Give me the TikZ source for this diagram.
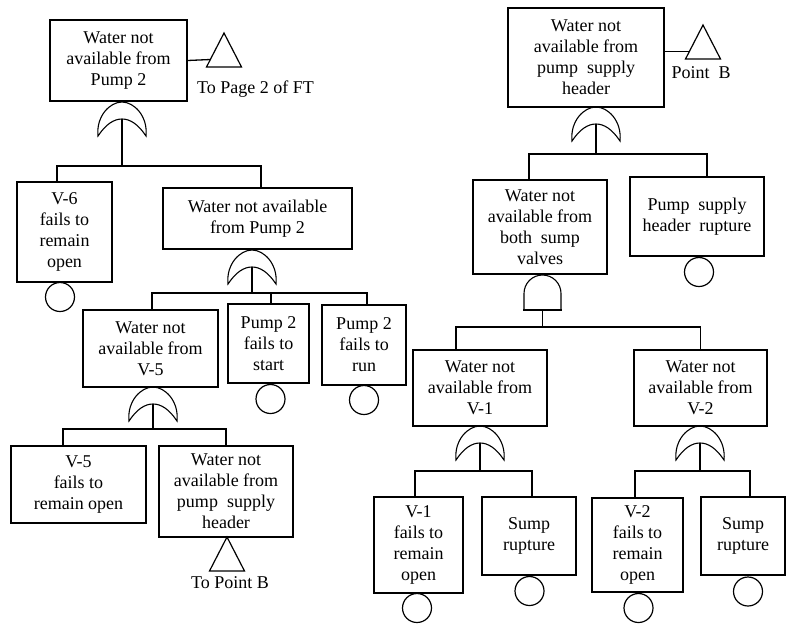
\documentclass[tikz,border=0pt]{standalone}
\usepackage{fontspec}
\setmainfont{Liberation Serif}
\begin{document}
\begin{tikzpicture}[x=1pt,y=-1pt,
  every node/.style={font=\fontsize{18}{21}\selectfont},
  box/.style args={#1/#2}{draw, line width=1.2pt, rectangle, inner sep=0pt,
    align=center, minimum width=#1pt, minimum height=#2pt},
  basic/.style={draw, line width=1.2pt, circle, inner sep=0pt, minimum size=29pt},
  link/.style={line width=1.3pt},
  gateline/.style={line width=1.1pt},
  lbl/.style={inner sep=0pt},
  orgate/.pic={
    \draw[gateline] (-24,34) .. controls (-26,14) and (-12,0) .. (0,0)
      .. controls (12,0) and (26,14) .. (24,34)
      .. controls (16,22) and (8,17) .. (0,17)
      .. controls (-8,17) and (-16,22) .. (-24,34) -- cycle;
    \coordinate (-in) at (0,17);
  },
  andgate/.pic={
    \draw[gateline] (-18.5,35) -- (-18.5,18.5) arc (180:0:18.5pt) -- (18.5,35);
    \draw[line width=2.4pt] (-19.5,35) -- (19.5,35);
    \coordinate (-out) at (0,35);
  },
  transfer/.pic={
    \draw[line width=1.2pt] (0,0) -- (17.5,34) -- (-17.5,34) -- cycle;
    \coordinate (-w) at (-13.5,26.5);
  }
]
\useasboundingbox (0,0) rectangle (786,624);

% ---------------- left tree ----------------
\node[box={137/81}] (A) at (118.5,60.5) {Water not\\available from\\Pump 2};
\pic (tA) at (224,33) {transfer};
\draw[link] (A.east) -- (tA-w);
\node[lbl, anchor=base west] (tAlbl) at (197,93) {To Page 2 of FT};

\pic (gA) at (122,102) {orgate};
\node[box={95/100}] (B) at (64.5,232) {V-6\\fails to\\remain\\open};
\node[basic] (cB) at (60,297) {};
\node[box={189/61}] (C) at (257.5,218.5) {Water not available\\from Pump 2};
\coordinate (jA) at (122,166);
\draw[link] (gA-in) -- (jA);
\draw[link] (jA) -| ([xshift=-7.5pt]B.north);
\draw[link] (jA) -| ([xshift=3.5pt]C.north);

\pic (gC) at (252,250) {orgate};
\node[box={135/77}] (D) at (150.5,348.5) {Water not\\available from\\V-5};
\node[box={81/79}] (E) at (268.5,343.5) {Pump 2\\fails to\\start};
\node[basic] (cE) at (270.5,399) {};
\node[box={84/80}] (F) at (364,345) {Pump 2\\fails to\\run};
\node[basic] (cF) at (364,400) {};
\coordinate (jC) at (252,293);
\draw[link] (gC-in) -- (jC);
\draw[link] (jC) -| ([xshift=1.5pt]D.north);
\draw[link] (jC) -| ([xshift=2.5pt]E.north);
\draw[link] (jC) -| ([xshift=3pt]F.north);

\pic (gD) at (153,387) {orgate};
\node[box={135/77}] (G) at (78.5,484.5) {V-5\\fails to\\remain open};
\node[box={134/91}] (H) at (226,491.5) {Water not\\available from\\pump~ supply\\header};
\coordinate (jD) at (153,429);
\draw[link] (gD-in) -- (jD);
\draw[link] (jD) -| ([xshift=-15.5pt]G.north);
\draw[link] (jD) -| (H.north);
\pic (tH) at (227,537) {transfer};
\node[lbl, anchor=base] (tHlbl) at (230,588) {To Point B};

% ---------------- right tree ----------------
\node[box={156/99}] (R) at (586,57.5) {Water not\\available from\\pump~ supply\\header};
\pic (tR) at (703,25) {transfer};
\draw[link] (tR-w -| R.east) -- (tR-w);
\node[lbl, anchor=base] (tRlbl) at (701,78) {Point~ B};

\pic (gR) at (596,107) {orgate};
\node[box={134/94}] (S) at (540,227) {Water not\\available from\\both~ sump\\valves};
\node[box={134/79}] (T) at (697,216.5) {Pump~ supply\\header~ rupture};
\node[basic] (cT) at (699,272) {};
\coordinate (jR) at (596,154);
\draw[link] (gR-in) -- (jR);
\draw[link] (jR) -| ([xshift=-11pt]S.north);
\draw[link] (jR) -| ([xshift=10pt]T.north);

\pic (gS) at (542.5,275) {andgate};
\node[box={134/76}] (U) at (480,388) {Water not\\available from\\V-1};
\node[box={133/76}] (V) at (700.5,388) {Water not\\available from\\V-2};
\coordinate (jS) at (542.5,327);
\draw[link] (gS-out) -- (jS);
\draw[link] (jS) -| ([xshift=-24pt]U.north);
\draw[link] (jS) -| (V.north);

\pic (gU) at (480,426) {orgate};
\node[box={89/96}] (W) at (418.5,545) {V-1\\fails to\\remain\\open};
\node[basic] (cW) at (417,608) {};
\node[box={94/78}] (X) at (529,536) {Sump\\rupture};
\node[basic] (cX) at (529.5,591) {};
\coordinate (jU) at (480,471);
\draw[link] (gU-in) -- (jU);
\draw[link] (jU) -| ([xshift=-3.5pt]W.north);
\draw[link] (jU) -| ([xshift=3pt]X.north);

\pic (gV) at (700,426) {orgate};
\node[box={91/94}] (Y) at (637.5,545) {V-2\\fails to\\remain\\open};
\node[basic] (cY) at (638.5,608) {};
\node[box={84/78}] (Z) at (743,536) {Sump\\rupture};
\node[basic] (cZ) at (748,591.5) {};
\coordinate (jV) at (700,471);
\draw[link] (gV-in) -- (jV);
\draw[link] (jV) -| ([xshift=-2.5pt]Y.north);
\draw[link] (jV) -| ([xshift=7pt]Z.north);
\end{tikzpicture}
\end{document}
